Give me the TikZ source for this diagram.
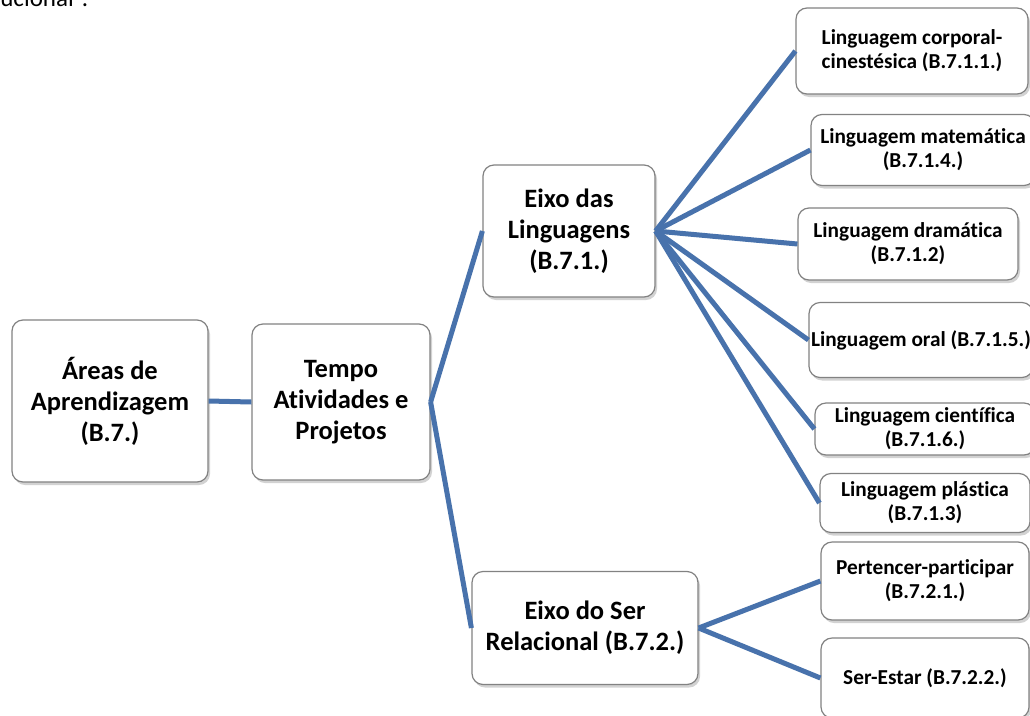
\documentclass[tikz,border=0pt]{standalone}
\usepackage{fontspec}
\setmainfont[Ligatures=NoCommon]{Carlito}
\usetikzlibrary{shadows}
\definecolor{linkblue}{RGB}{72,114,172}
\definecolor{boxgray}{RGB}{130,130,130}
\tikzset{
  card/.style={draw=boxgray, line width=1.2pt, fill=white, rounded corners=11pt,
    align=center, inner sep=2pt, font=\bfseries,
    drop shadow={opacity=0.35, shadow xshift=2pt, shadow yshift=-3pt}},
  bigcard/.style={card, font=\fontsize{26.5}{31}\selectfont\bfseries},
  smallcard/.style={card, font=\fontsize{21.3}{24}\selectfont\bfseries},
  link/.style={draw=linkblue, line width=5pt}
}
\begin{document}
\begin{tikzpicture}[x=1pt, y=-1pt]
  \useasboundingbox (0,0) rectangle (1030,715);
  \fill[white] (0,0) rectangle (1030,715);

  % running text above the chart, cut by the page edge
  \node[anchor=base west, inner sep=0pt, font=\fontsize{25}{30}\selectfont] (prev) at (-13,6) {ducional”.};

  % main chain
  \node[bigcard, minimum width=196pt, minimum height=162pt] (areas) at (110,401) {Áreas de\\Aprendizagem\\(B.7.)};
  \node[bigcard, minimum width=178pt, minimum height=156pt] (tempo) at (341,402) {Tempo\\Atividades e\\Projetos};
  \node[bigcard, minimum width=172pt, minimum height=132pt] (ling) at (569,231) {Eixo das\\Linguagens\\(B.7.1.)};
  \node[bigcard, minimum width=226pt, minimum height=113pt] (ser) at (585,628) {Eixo do Ser\\Relacional (B.7.2.)};

  % language leaves
  \node[smallcard, minimum width=232pt, minimum height=86pt] (corp) at (912,51) {Linguagem corporal-\\cinestésica (B.7.1.1.)};
  \node[smallcard, minimum width=224pt, minimum height=71pt] (mat) at (923,150) {Linguagem matemática\\(B.7.1.4.)};
  \node[smallcard, minimum width=220pt, minimum height=72pt] (dram) at (908,244) {Linguagem dramática\\(B.7.1.2)};
  \node[smallcard, minimum width=10pt, minimum height=75pt] (oral) at (921,340) {Linguagem oral (B.7.1.5.)};
  \node[smallcard, minimum width=220pt, minimum height=52pt] (cien) at (925,429) {Linguagem científica\\(B.7.1.6.)};
  \node[smallcard, minimum width=210pt, minimum height=59pt] (plas) at (925,503) {Linguagem plástica\\(B.7.1.3)};

  % relational leaves
  \node[smallcard, minimum width=208pt, minimum height=78pt] (pert) at (925,581) {Pertencer-participar\\(B.7.2.1.)};
  \node[smallcard, minimum width=208pt, minimum height=80pt] (estar) at (925,678) {Ser-Estar (B.7.2.2.)};

  % connectors
  \path[link] (areas.east) -- (tempo.west);
  \path[link] (tempo.east) -- (ling.west);
  \path[link] (tempo.east) -- (ser.west);
  \foreach \leaf in {corp,mat,dram,oral,cien,plas}
    \path[link] (ling.east) -- (\leaf.west);
  \path[link] (ser.east) -- (pert.west);
  \path[link] (ser.east) -- (estar.west);
\end{tikzpicture}
\end{document}
